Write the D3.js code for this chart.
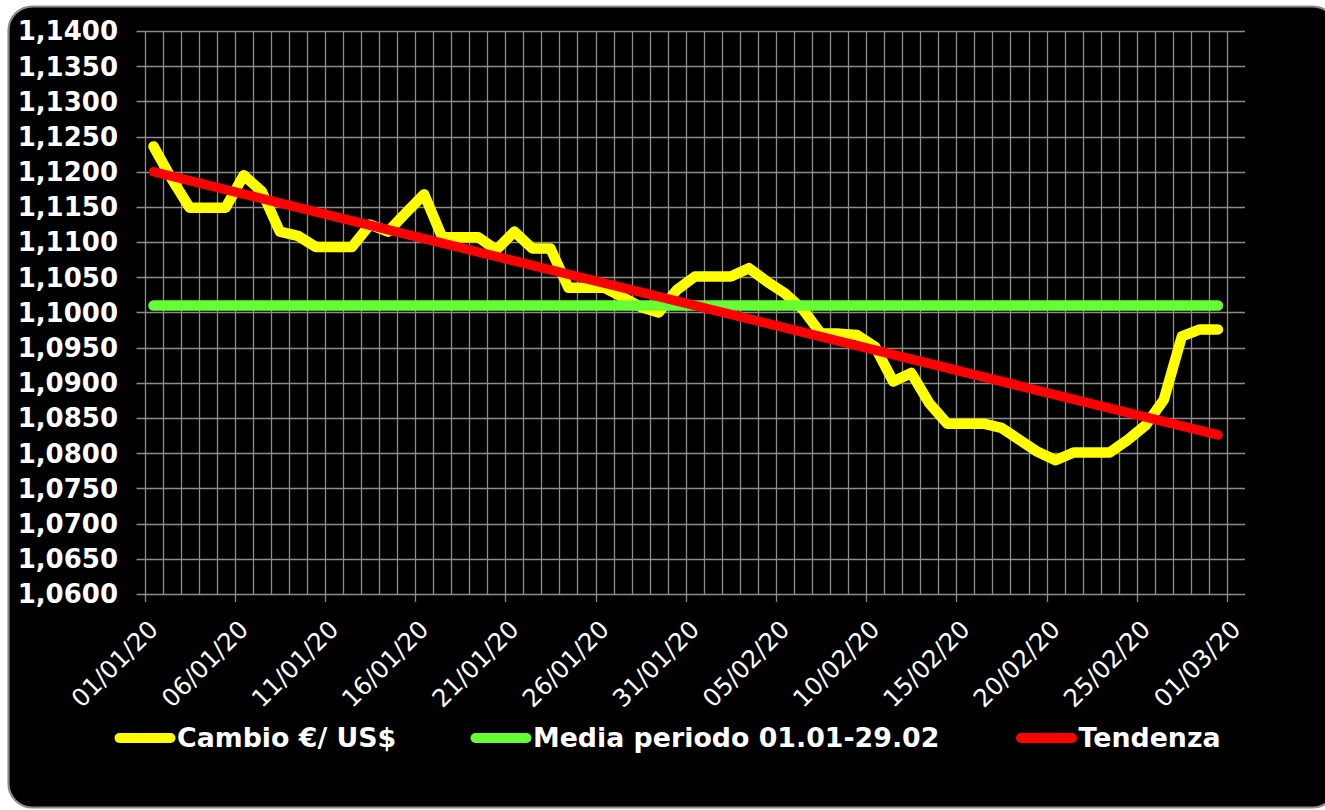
<!DOCTYPE html>
<html>
<head>
<meta charset="utf-8">
<script src="https://cdn.jsdelivr.net/npm/d3@7"></script>
<style>
    body { margin: 0; background: #fff; }
    svg { display: block; }
    .ylab { font-family: "DejaVu Sans", Verdana, sans-serif; font-weight: bold; font-size: 26px; fill: #fff; }
    .xlab { font-family: "DejaVu Sans", Verdana, sans-serif; font-size: 24.5px; fill: #fff; }
    .leg { font-family: "DejaVu Sans", Verdana, sans-serif; font-weight: bold; font-size: 26.8px; fill: #fff; }
</style>
</head>
<body>
<div id="chart"></div>
<script>
// Data
const startDate = '01/01/20';
const rates = [
    1.1236, 1.1190, 1.1149, 1.1149, 1.1149, 1.1195, 1.1172, 1.1115, 1.1109, 1.1093,
    1.1093, 1.1093, 1.1125, 1.1115, 1.1142, 1.1168, 1.1107, 1.1107, 1.1107, 1.1089,
    1.1115, 1.1091, 1.1091, 1.1035, 1.1035, 1.1035, 1.1022, 1.1008, 1.1000, 1.1032,
    1.1051, 1.1051, 1.1051, 1.1063, 1.1044, 1.1027, 1.1004, 1.0970, 1.0970, 1.0968,
    1.0951, 1.0902, 1.0914, 1.0871, 1.0842, 1.0842, 1.0842, 1.0836, 1.0819, 1.0802,
    1.0790, 1.0801, 1.0801, 1.0801, 1.0819, 1.0840, 1.0876, 1.0966, 1.0976, 1.0976
];
const periodMean = 1.1010;
const trendEnds = [1.1200, 1.0826];
const tickLabels = ['01/01/20', '06/01/20', '11/01/20', '16/01/20', '21/01/20', '26/01/20', '31/01/20',
    '05/02/20', '10/02/20', '15/02/20', '20/02/20', '25/02/20', '01/03/20'];
const yTicks = [1.06, 1.065, 1.07, 1.075, 1.08, 1.085, 1.09, 1.095, 1.10, 1.105, 1.11, 1.115, 1.12, 1.125, 1.13, 1.135, 1.14];
const seriesNames = ['Cambio €/ US$', 'Media periodo 01.01-29.02', 'Tendenza'];
const seriesColors = ['#ffff00', '#66ff33', '#ff0000'];

const W = 1325, H = 810;
const plot = { left: 144.5, right: 1245, top: 31, bottom: 594 };

const parse = d3.timeParse('%d/%m/%y');
const itFormat = d3.formatLocale({ decimal: ',', thousands: '.', grouping: [3], currency: ['€', ''] }).format('.4f');

const day0 = parse(startDate);
const days = d3.timeDay.range(day0, d3.timeDay.offset(day0, rates.length));
const mid = d => d3.timeHour.offset(d, 12);

const x = d3.scaleTime()
    .domain([day0, d3.timeDay.offset(day0, rates.length + 1)])
    .range([plot.left, plot.right]);
const y = d3.scaleLinear().domain([1.06, 1.14]).range([plot.bottom, plot.top]);

const svg = d3.select('#chart').append('svg').attr('width', W).attr('height', H);

// Chart frame
svg.append('rect')
    .attr('x', 8.5).attr('y', 6.5)
    .attr('width', 1328).attr('height', 801)
    .attr('rx', 24)
    .attr('fill', '#000')
    .attr('stroke', '#8a8a8a')
    .attr('stroke-width', 2.2);

const grid = svg.append('g').attr('stroke', '#8c8c8c').attr('stroke-width', 1.3);

// horizontal gridlines with small tick outside
grid.selectAll('.hg').data(yTicks).enter().append('line')
    .attr('x1', plot.left - 8).attr('x2', plot.right)
    .attr('y1', d => Math.round(y(d)) + 0.5).attr('y2', d => Math.round(y(d)) + 0.5);

// vertical daily gridlines
const dayLines = d3.timeDay.range(day0, d3.timeDay.offset(day0, rates.length + 1));
const tickDates = tickLabels.map(parse);
grid.selectAll('.vg').data(dayLines).enter().append('line')
    .attr('x1', d => Math.round(x(d)) + 0.5).attr('x2', d => Math.round(x(d)) + 0.5)
    .attr('y1', plot.top)
    .attr('y2', d => tickDates.some(t => +t === +d) ? plot.bottom + 8 : plot.bottom);

// Y labels
svg.selectAll('.ylab').data(yTicks).enter().append('text')
    .attr('class', 'ylab')
    .attr('x', 118)
    .attr('y', d => y(d))
    .attr('dy', '0.36em')
    .attr('text-anchor', 'end')
    .text(d => itFormat(d));

// X labels, rotated
svg.selectAll('.xlab').data(tickDates).enter().append('text')
    .attr('class', 'xlab')
    .attr('text-anchor', 'end')
    .attr('transform', d => `translate(${x(d) + 15},${631}) rotate(-45)`)
    .text(d => d3.timeFormat('%d/%m/%y')(d));

// Series
const line = d3.line().x(d => x(d[0])).y(d => y(d[1]));
const rateData = days.map((d, i) => [mid(d), rates[i]]);
const first = mid(days[0]), last = mid(days[days.length - 1]);
const meanData = [[first, periodMean], [last, periodMean]];
const trendData = [[first, trendEnds[0]], [last, trendEnds[1]]];

[[rateData, 10.5], [meanData, 10.5], [trendData, 9.5]].forEach(([data, w], k) => {
    svg.append('path')
        .datum(data)
        .attr('d', line)
        .attr('fill', 'none')
        .attr('stroke', seriesColors[k])
        .attr('stroke-width', w)
        .attr('stroke-linejoin', 'round')
        .attr('stroke-linecap', 'round');
});

// Legend
const legendX = [119.5, 475.5, 1021];
const leg = svg.selectAll('.legitem').data(seriesNames).enter().append('g')
    .attr('transform', (d, i) => `translate(${legendX[i]},738)`);
leg.append('line')
    .attr('x1', 0).attr('x2', 51)
    .attr('stroke', (d, i) => seriesColors[i])
    .attr('stroke-width', 10)
    .attr('stroke-linecap', 'round');
leg.append('text')
    .attr('class', 'leg')
    .attr('x', 57.5)
    .attr('y', 8.5)
    .text(d => d);
</script>
</body>
</html>
